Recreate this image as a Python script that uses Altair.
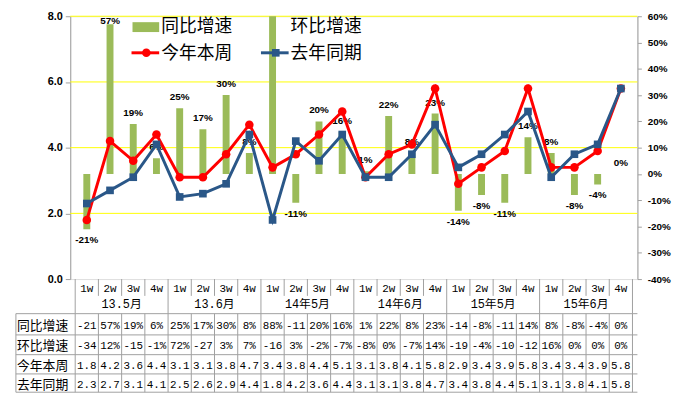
import altair as alt
import pandas as pd

weeks = ["1w", "2w", "3w", "4w"] * 6
months = ["13.5月", "13.6月", "14年5月", "14年6月", "15年5月", "15年6月"]
yoy = [-21, 57, 19, 6, 25, 17, 30, 8, 88, -11, 20, 16, 1, 22, 8, 23, -14, -8, -11, 14, 8, -8, -4, 0]
mom = [-34, 12, -15, -1, 72, -27, 3, 7, -16, 3, -2, -7, -8, 0, -7, 14, -19, -4, -10, -12, 16, 0, 0, 0]
this_year = [1.8, 4.2, 3.6, 4.4, 3.1, 3.1, 3.8, 4.7, 3.4, 3.8, 4.4, 5.1,
             3.1, 3.8, 4.1, 5.8, 2.9, 3.4, 3.9, 5.8, 3.4, 3.4, 3.9, 5.8]
last_year = [2.3, 2.7, 3.1, 4.1, 2.5, 2.6, 2.9, 4.4, 1.8, 4.2, 3.6, 4.4,
             3.1, 3.1, 3.8, 4.7, 3.4, 3.8, 4.4, 5.1, 3.1, 3.8, 4.1, 5.8]
row_names = ["同比增速", "环比增速", "今年本周", "去年同期"]
left_ticks = [0, 2, 4, 6, 8]
right_ticks = [-40, -30, -20, -10, 0, 10, 20, 30, 40, 50, 60]

n = len(weeks)
df = pd.DataFrame({
    "pos": [i + 0.5 for i in range(n)],
    "week": weeks,
    "yoy": yoy,
    "ty": this_year,
    "ly": last_year,
    "yoy_lbl": [f"{v}%" for v in yoy],
    "yoy_cell": [f"{v}%"[:3] for v in yoy],
    "mom_cell": [f"{v}%"[:3] for v in mom],
    "ty_cell": [f"{v:.1f}" for v in this_year],
    "ly_cell": [f"{v:.1f}" for v in last_year],
})
month_df = pd.DataFrame({"pos": [4 * m + 2 for m in range(len(months))], "month": months})
bounds = pd.DataFrame({"b": list(range(n + 1))})
grid_df = pd.DataFrame({"g": left_ticks[1:]})

W, H = 574, 266
GREEN = "#9bbb59"
RED = "#ff0000"
BLUE = "#2a5788"
YELLOW = "#ffff00"
GRAY = "#a0a0a0"
CJK = "Noto Sans CJK SC"
MONO = "Liberation Mono"

xs = alt.Scale(domain=[0, n], nice=False, zero=False)
yl = alt.Scale(domain=[0, 8], nice=False, zero=False)
yr = alt.Scale(domain=[-40, 60], nice=False, zero=False)
X = alt.X("pos:Q", scale=xs, axis=None)

base = alt.Chart(df)
one = alt.Data(values=[{}])

hgrid = alt.Chart(grid_df).mark_rule(color=YELLOW, strokeWidth=1).encode(
    y=alt.Y("g:Q", scale=yl, axis=None)
)

bars = base.mark_bar(size=7, color=GREEN, clip=True).encode(
    x=alt.X("pos:Q", scale=xs, axis=alt.Axis(
        values=list(range(1, n)), grid=True, gridColor=YELLOW, gridWidth=1,
        labels=False, ticks=False, domainColor=GRAY, title=None)),
    y=alt.Y("yoy:Q", scale=yr, axis=alt.Axis(
        orient="right", values=right_ticks, labelExpr="datum.value + '%'",
        grid=False, title=None, labelFont="Liberation Sans", labelFontWeight="bold",
        labelFontSize=10, labelColor="black", tickColor=GRAY, domainColor=GRAY,
        tickSize=4, labelPadding=6)),
    y2=alt.datum(0),
)

pos_lbl = base.transform_filter("datum.yoy >= 0 && datum.yoy <= 60").transform_calculate(
    lp="min(datum.yoy, 54)"
).mark_text(
    baseline="bottom", dy=-6, fontSize=10, fontWeight="bold", font="Liberation Sans", color="black"
).encode(x=X, y=alt.Y("lp:Q", scale=yr, axis=None), text="yoy_lbl:N")

neg_lbl = base.transform_filter("datum.yoy < 0").mark_text(
    baseline="top", dy=6, fontSize=10, fontWeight="bold", font="Liberation Sans", color="black"
).encode(x=X, y=alt.Y("yoy:Q", scale=yr, axis=None), text="yoy_lbl:N")

red = base.mark_line(color=RED, strokeWidth=3, point=alt.OverlayMarkDef(
    filled=True, size=75, color=RED, opacity=1)).encode(
    x=X,
    y=alt.Y("ty:Q", scale=yl, axis=alt.Axis(
        orient="left", values=left_ticks, format=".1f", grid=False, title=None,
        labelFont="Liberation Sans", labelFontWeight="bold", labelFontSize=11,
        labelColor="black", tickColor=GRAY, domainColor=GRAY, tickSize=5, labelPadding=3)),
)

blue = base.mark_line(color=BLUE, strokeWidth=3, point=alt.OverlayMarkDef(
    filled=True, size=60, color=BLUE, shape="square", opacity=1)).encode(
    x=X, y=alt.Y("ly:Q", scale=yl, axis=None)
)

# legend (plot-relative pixels)
leg = []
leg.append(alt.Chart(one).mark_rect(color=GREEN).encode(
    x=alt.value(63), x2=alt.value(90), y=alt.value(6), y2=alt.value(16)))
leg.append(alt.Chart(one).mark_rule(color=RED, strokeWidth=3).encode(
    x=alt.value(62), x2=alt.value(90), y=alt.value(37)))
leg.append(alt.Chart(one).mark_point(filled=True, size=75, color=RED, opacity=1).encode(
    x=alt.value(77), y=alt.value(37)))
leg.append(alt.Chart(one).mark_rule(color=BLUE, strokeWidth=3).encode(
    x=alt.value(193), x2=alt.value(221), y=alt.value(37)))
leg.append(alt.Chart(one).mark_point(filled=True, size=60, shape="square", color=BLUE, opacity=1).encode(
    x=alt.value(208), y=alt.value(37)))
for txt, lx, ly in [(row_names[0], 92, 11), (row_names[1], 223, 11),
                    (row_names[2], 92, 38), (row_names[3], 223, 38)]:
    leg.append(alt.Chart(one).mark_text(
        text=txt, align="left", baseline="middle", font=CJK, fontSize=18, color="black"
    ).encode(x=alt.value(lx), y=alt.value(ly)))

# category axis and data table
tbl = []
tbl.append(base.mark_text(font=MONO, fontSize=11, color="black").encode(
    x=X, y=alt.value(276.5), text="week:N"))
tbl.append(alt.Chart(month_df).mark_text(font=f"{MONO}, {CJK}", fontSize=12, color="black").encode(
    x=X, y=alt.value(291), text="month:N"))
tbl.append(alt.Chart(bounds).transform_filter("datum.b % 4 != 0").mark_rule(color=GRAY).encode(
    x=alt.X("b:Q", scale=xs, axis=None), y=alt.value(266), y2=alt.value(283)))
tbl.append(alt.Chart(bounds).transform_filter("datum.b % 4 == 0").mark_rule(color=GRAY).encode(
    x=alt.X("b:Q", scale=xs, axis=None), y=alt.value(266), y2=alt.value(301)))
tbl.append(alt.Chart(bounds).mark_rule(color=GRAY).encode(
    x=alt.X("b:Q", scale=xs, axis=None), y=alt.value(301), y2=alt.value(380.5)))
tbl.append(alt.Chart(one).mark_rule(color=GRAY).encode(
    x=alt.value(-55), y=alt.value(301), y2=alt.value(380.5)))
for ry in [301, 322.5, 342.5, 362, 380.5]:
    tbl.append(alt.Chart(one).mark_rule(color=GRAY).encode(
        x=alt.value(-55), x2=alt.value(W), y=alt.value(ry)))
row_y = [313.5, 334, 354, 373]
for field, name, ry in zip(["yoy_cell", "mom_cell", "ty_cell", "ly_cell"], row_names, row_y):
    tbl.append(base.mark_text(font=MONO, fontSize=11, color="black").encode(
        x=X, y=alt.value(ry), text=f"{field}:N"))
    tbl.append(alt.Chart(one).mark_text(text=name, font=CJK, fontSize=13, color="black").encode(
        x=alt.value(-28), y=alt.value(ry)))

chart = alt.layer(
    hgrid, bars, pos_lbl, neg_lbl, red, blue, *leg, *tbl
).resolve_scale(y="independent").properties(
    width=W, height=H,
    autosize=alt.AutoSizeParams(type="none"),
    padding={"left": 63, "top": 6, "right": 35, "bottom": 117},
).configure_view(stroke=None).configure(background="white")

chart.save("out.html", embed_options={"renderer": "svg", "actions": False})
